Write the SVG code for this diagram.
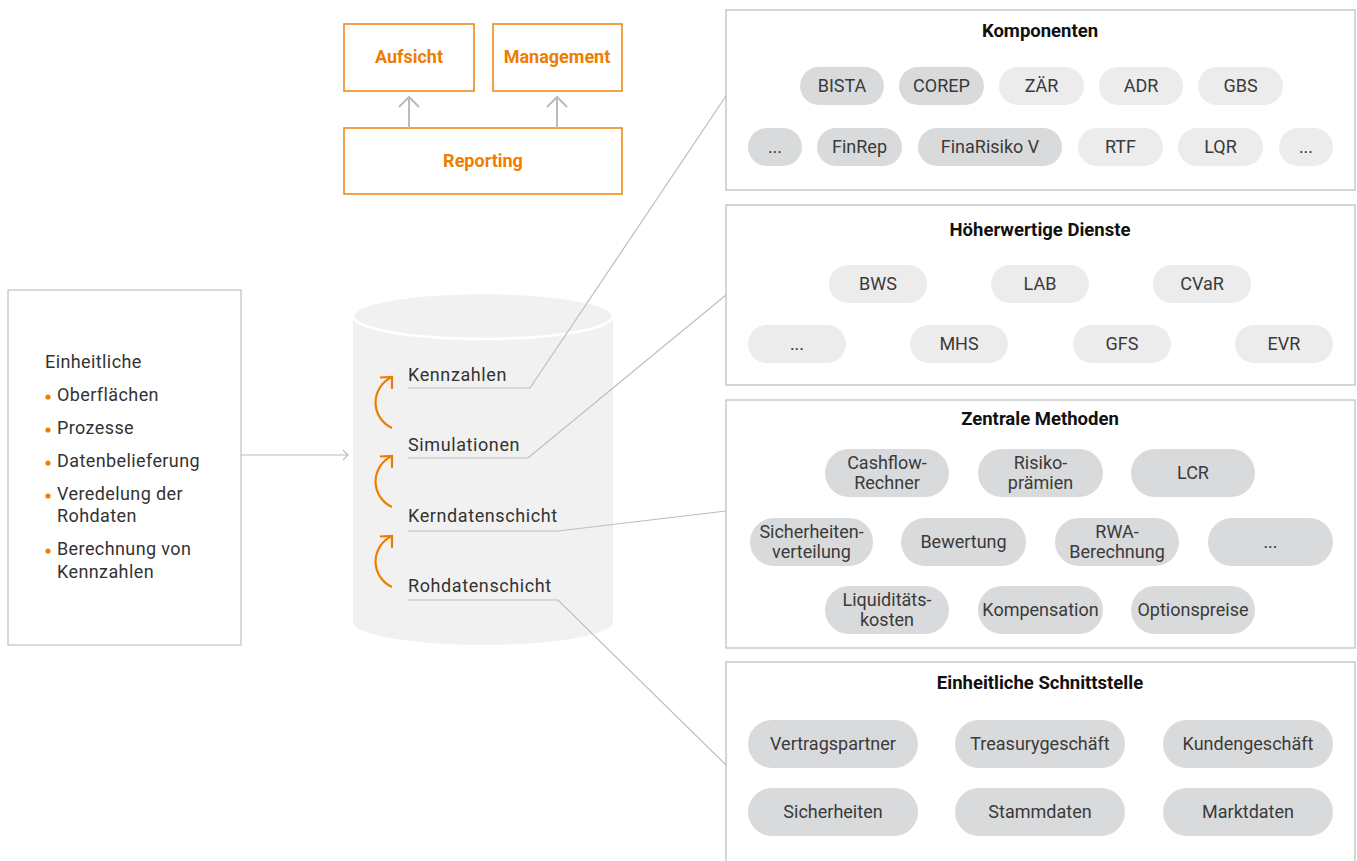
<svg xmlns="http://www.w3.org/2000/svg" width="1357" height="861" viewBox="0 0 1357 861">
<style>
.bg{fill:#ffffff}
.obox{fill:#ffffff;stroke:#f08a1c;stroke-width:1.6}
.otxt{font-family:Roboto,"Liberation Sans",sans-serif;font-weight:700;font-size:18px;fill:#ef7d00;text-anchor:middle}
.sec{fill:#ffffff;stroke:#c8c8c8;stroke-width:1.5}
.ttl{font-family:Roboto,"Liberation Sans",sans-serif;font-weight:700;font-size:18.5px;fill:#111111;text-anchor:middle}
.pd{fill:#d9dadb}
.pl{fill:#ececec}
.pt{font-family:Roboto,"Liberation Sans",sans-serif;font-size:18px;fill:#3a3a3a;text-anchor:middle}
.lt{font-family:Roboto,"Liberation Sans",sans-serif;font-size:18px;fill:#333333;letter-spacing:0.4px}
.cl{font-family:Roboto,"Liberation Sans",sans-serif;font-size:18px;fill:#333333;letter-spacing:0.6px}
.con{fill:none;stroke:#bdbdbd;stroke-width:1.2}
.garr{fill:none;stroke:#bbbbbb;stroke-width:2}
.oarc{fill:none;stroke:#ef7d00;stroke-width:2.2}
.dot{fill:#ef7d00}
</style>
<rect class="bg" x="0" y="0" width="1357" height="861"/>

<g id="aufsicht"><rect class="obox" x="344" y="24" width="130" height="67"/><text class="otxt" x="409" y="63">Aufsicht</text></g>
<g id="management"><rect class="obox" x="493" y="24" width="129" height="67"/><text class="otxt" x="557" y="63">Management</text></g>
<g id="reporting"><rect class="obox" x="344" y="128" width="278" height="66"/><text class="otxt" x="483" y="167">Reporting</text></g>

<g id="left-box">
<rect x="8" y="290" width="233" height="355" fill="#ffffff" stroke="#c0c0c0" stroke-width="1.2"/>
<text class="lt" x="45" y="368">Einheitliche</text>
<circle class="dot" cx="48" cy="397" r="2.6"/><text class="lt" x="57" y="401">Oberflächen</text>
<circle class="dot" cx="48" cy="430" r="2.6"/><text class="lt" x="57" y="434">Prozesse</text>
<circle class="dot" cx="48" cy="463" r="2.6"/><text class="lt" x="57" y="467">Datenbelieferung</text>
<circle class="dot" cx="48" cy="496" r="2.6"/><text class="lt" x="57" y="500">Veredelung der</text>
<text class="lt" x="57" y="522">Rohdaten</text>
<circle class="dot" cx="48" cy="551" r="2.6"/><text class="lt" x="57" y="555">Berechnung von</text>
<text class="lt" x="57" y="578">Kennzahlen</text>
</g>

<g id="database">
<path d="M353,316 L353,622 A130,23 0 0 0 613,622 L613,316 Z" fill="#f1f1f1"/>
<ellipse cx="483" cy="316" rx="130" ry="23" fill="#f1f1f1" stroke="#ffffff" stroke-width="2.5"/>
<text class="cl" x="408" y="381">Kennzahlen</text>
<text class="cl" x="408" y="451">Simulationen</text>
<text class="cl" x="408" y="522">Kerndatenschicht</text>
<text class="cl" x="408" y="592">Rohdatenschicht</text>
<path class="oarc" d="M392,428 A28,28 0 0 1 392,377"/>
<path class="oarc" d="M380,377.5 L392,377 L392,389"/>
<path class="oarc" d="M392,507 A28,28 0 0 1 392,456"/>
<path class="oarc" d="M380,456.5 L392,456 L392,468"/>
<path class="oarc" d="M392,587 A28,28 0 0 1 392,536"/>
<path class="oarc" d="M380,536.5 L392,536 L392,548"/>
</g>

<g id="komponenten">
<rect class="sec" x="726" y="10" width="629" height="180"/>
<text class="ttl" x="1040" y="37">Komponenten</text>
<rect class="pd" x="800" y="67" width="84" height="38" rx="19"/><text class="pt" x="842" y="92">BISTA</text>
<rect class="pd" x="899" y="67" width="85" height="38" rx="19"/><text class="pt" x="941.5" y="92">COREP</text>
<rect class="pl" x="999" y="67" width="85" height="38" rx="19"/><text class="pt" x="1041.5" y="92">ZÄR</text>
<rect class="pl" x="1099" y="67" width="84" height="38" rx="19"/><text class="pt" x="1141" y="92">ADR</text>
<rect class="pl" x="1198" y="67" width="85" height="38" rx="19"/><text class="pt" x="1240.5" y="92">GBS</text>
<rect class="pd" x="748" y="128" width="54" height="38" rx="19"/><text class="pt" x="775" y="153">...</text>
<rect class="pd" x="817" y="128" width="85" height="38" rx="19"/><text class="pt" x="859.5" y="153">FinRep</text>
<rect class="pd" x="918" y="128" width="144" height="38" rx="19"/><text class="pt" x="990" y="153">FinaRisiko V</text>
<rect class="pl" x="1078" y="128" width="85" height="38" rx="19"/><text class="pt" x="1120.5" y="153">RTF</text>
<rect class="pl" x="1178" y="128" width="85" height="38" rx="19"/><text class="pt" x="1220.5" y="153">LQR</text>
<rect class="pl" x="1279" y="128" width="54" height="38" rx="19"/><text class="pt" x="1306" y="153">...</text>
</g>

<g id="hoeherwertige-dienste">
<rect class="sec" x="726" y="205" width="629" height="180"/>
<text class="ttl" x="1040" y="236">Höherwertige Dienste</text>
<rect class="pl" x="829" y="265" width="98" height="38" rx="19"/><text class="pt" x="878" y="290">BWS</text>
<rect class="pl" x="991" y="265" width="98" height="38" rx="19"/><text class="pt" x="1040" y="290">LAB</text>
<rect class="pl" x="1153" y="265" width="98" height="38" rx="19"/><text class="pt" x="1202" y="290">CVaR</text>
<rect class="pl" x="748" y="325" width="98" height="38" rx="19"/><text class="pt" x="797" y="350">...</text>
<rect class="pl" x="910" y="325" width="98" height="38" rx="19"/><text class="pt" x="959" y="350">MHS</text>
<rect class="pl" x="1073" y="325" width="98" height="38" rx="19"/><text class="pt" x="1122" y="350">GFS</text>
<rect class="pl" x="1235" y="325" width="98" height="38" rx="19"/><text class="pt" x="1284" y="350">EVR</text>
</g>

<g id="zentrale-methoden">
<rect class="sec" x="726" y="400" width="629" height="248"/>
<text class="ttl" x="1040" y="425">Zentrale Methoden</text>
<rect class="pd" x="825" y="449" width="124" height="48" rx="24"/><text class="pt" x="887" y="469">Cashflow-</text><text class="pt" x="887" y="489">Rechner</text>
<rect class="pd" x="978" y="449" width="125" height="48" rx="24"/><text class="pt" x="1040.5" y="469">Risiko-</text><text class="pt" x="1040.5" y="489">prämien</text>
<rect class="pd" x="1131" y="449" width="124" height="48" rx="24"/><text class="pt" x="1193" y="479">LCR</text>
<rect class="pd" x="750" y="518" width="123" height="48" rx="24"/><text class="pt" x="811.5" y="538">Sicherheiten-</text><text class="pt" x="811.5" y="558">verteilung</text>
<rect class="pd" x="901" y="518" width="125" height="48" rx="24"/><text class="pt" x="963.5" y="548">Bewertung</text>
<rect class="pd" x="1055" y="518" width="124" height="48" rx="24"/><text class="pt" x="1117" y="538">RWA-</text><text class="pt" x="1117" y="558">Berechnung</text>
<rect class="pd" x="1208" y="518" width="125" height="48" rx="24"/><text class="pt" x="1270.5" y="548">...</text>
<rect class="pd" x="825" y="586" width="124" height="48" rx="24"/><text class="pt" x="887" y="606">Liquiditäts-</text><text class="pt" x="887" y="626">kosten</text>
<rect class="pd" x="978" y="586" width="125" height="48" rx="24"/><text class="pt" x="1040.5" y="616">Kompensation</text>
<rect class="pd" x="1131" y="586" width="124" height="48" rx="24"/><text class="pt" x="1193" y="616">Optionspreise</text>
</g>

<g id="einheitliche-schnittstelle">
<rect class="sec" x="726" y="662" width="629" height="220"/>
<text class="ttl" x="1040" y="689">Einheitliche Schnittstelle</text>
<rect class="pd" x="748" y="720" width="170" height="48" rx="24"/><text class="pt" x="833" y="750">Vertragspartner</text>
<rect class="pd" x="955" y="720" width="170" height="48" rx="24"/><text class="pt" x="1040" y="750">Treasurygeschäft</text>
<rect class="pd" x="1163" y="720" width="170" height="48" rx="24"/><text class="pt" x="1248" y="750">Kundengeschäft</text>
<rect class="pd" x="748" y="788" width="170" height="48" rx="24"/><text class="pt" x="833" y="818">Sicherheiten</text>
<rect class="pd" x="955" y="788" width="170" height="48" rx="24"/><text class="pt" x="1040" y="818">Stammdaten</text>
<rect class="pd" x="1163" y="788" width="170" height="48" rx="24"/><text class="pt" x="1248" y="818">Marktdaten</text>
</g>

<g id="connectors">
<path class="garr" d="M409,128 L409,97 M399,107 L409,97 L419,107"/>
<path class="garr" d="M557,128 L557,97 M547,107 L557,97 L567,107"/>
<path class="con" d="M241,455 L348,455 M343,450 L348,455 L343,460"/>
<path class="con" d="M408,388 L530,388 L726,96"/>
<path class="con" d="M408,458 L528,458 L726,295"/>
<path class="con" d="M408,531 L558,531 L726,511"/>
<path class="con" d="M408,600 L558,600 L726,765"/>
</g>
</svg>
